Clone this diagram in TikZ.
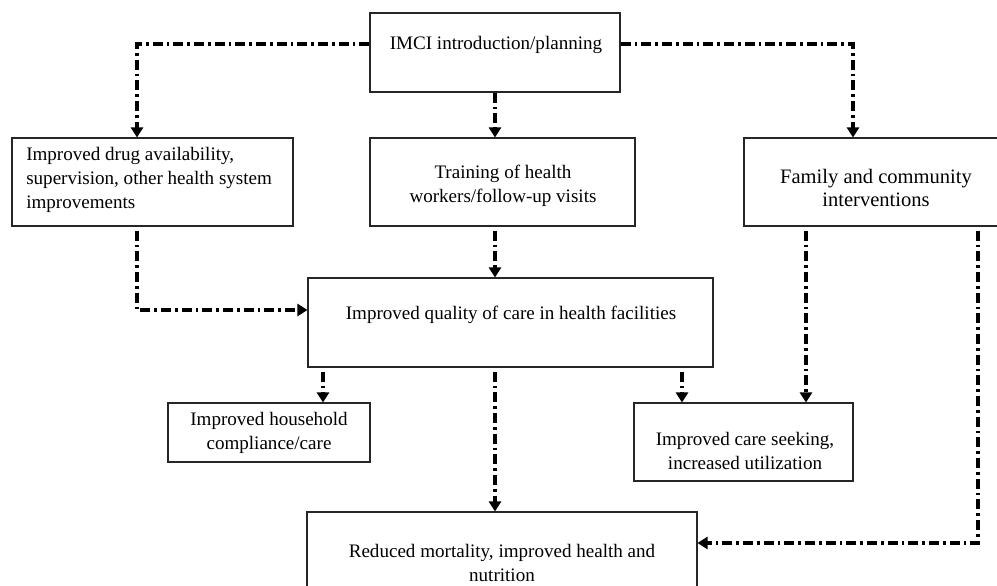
\documentclass[tikz,border=0pt]{standalone}
\usepackage{fontspec}
\setmainfont{Liberation Serif}
\usetikzlibrary{arrows.meta}
\tikzset{
  box/.style={draw=black!85, line width=0.8pt, rectangle, inner sep=0pt},
  txt/.style={inner sep=0pt, align=center, font=\fontsize{14.3}{18}\selectfont},
  bigtxt/.style={inner sep=0pt, align=center, font=\fontsize{15.4}{17.5}\selectfont},
  flow/.style={line width=3.2pt, line join=miter, dash pattern=on 7.5pt off 3pt on 2pt off 3pt,
    -{Triangle[width=9pt,length=7.5pt]}},
  gap/.style={shorten <=3pt}
}
\begin{document}
\begin{tikzpicture}[x=0.75pt,y=-0.75pt]
\useasboundingbox (0,0) rectangle (997,586);
\clip (0,0) rectangle (997,586);
\fill[white] (0,0) rectangle (997,586);

% boxes
\node[box, minimum width=187.5pt, minimum height=59.25pt] (imci) at (495,52.5) {};
\node[box, minimum width=210.75pt, minimum height=66pt] (left) at (152.5,182) {};
\node[box, minimum width=198.75pt, minimum height=66pt] (train) at (502.5,182) {};
\node[box, minimum width=194.25pt, minimum height=66pt] (family) at (873.5,182) {};
\node[box, minimum width=303.75pt, minimum height=66.75pt] (quality) at (510.5,322.5) {};
\node[box, minimum width=151.5pt, minimum height=44.25pt] (house) at (269,432.5) {};
\node[box, minimum width=164.25pt, minimum height=58.5pt] (care) at (743.5,442) {};
\node[box, minimum width=292.5pt, minimum height=81pt] (reduced) at (502,566) {};

% texts
\node[txt] (imcit) at (496,45) {IMCI introduction/planning};
\node[txt, anchor=west, align=left] (leftt) at (26,180) {Improved drug availability,\\supervision, other health system\\improvements};
\node[txt] (traint) at (503,186) {Training of health\\workers/follow-up visits};
\node[bigtxt] (familyt) at (876,188) {Family and community\\interventions};
\node[txt] (qualityt) at (511,315) {Improved quality of care in health facilities};
\node[txt] (houset) at (269,433) {Improved household\\compliance/care};
\node[txt] (caret) at (745,451) {Improved care seeking,\\increased utilization};
\node[txt] (reducedt) at (502,563) {Reduced mortality, improved health and\\nutrition};

% helper coordinates
\coordinate (a1) at (137,44);
\coordinate (a3) at (853,44);
\coordinate (col) at (495,0);
\coordinate (a4) at (137,310);
\coordinate (b1) at (323,0);
\coordinate (b3) at (682,0);
\coordinate (b4) at (806,0);
\coordinate (a10) at (978,543);

% connectors
\draw[flow] (imci.west |- a1) -- (a1) -- (a1 |- left.north);
\draw[flow] (imci.south -| col) -- (col |- train.north);
\draw[flow] (imci.east |- a3) -- (a3) -- (a3 |- family.north);
\draw[flow, gap] (left.south -| a4) -- (a4) -- (quality.west |- a4);
\draw[flow, gap] (train.south -| col) -- (col |- quality.north);
\draw[flow, gap] (quality.south -| b1) -- (b1 |- house.north);
\draw[flow, gap] (quality.south -| col) -- (col |- reduced.north);
\draw[flow, gap] (quality.south -| b3) -- (b3 |- care.north);
\draw[flow, gap] (family.south -| b4) -- (b4 |- care.north);
\draw[flow, gap] (family.south -| a10) -- (a10) -- (reduced.east |- a10);
\end{tikzpicture}
\end{document}
